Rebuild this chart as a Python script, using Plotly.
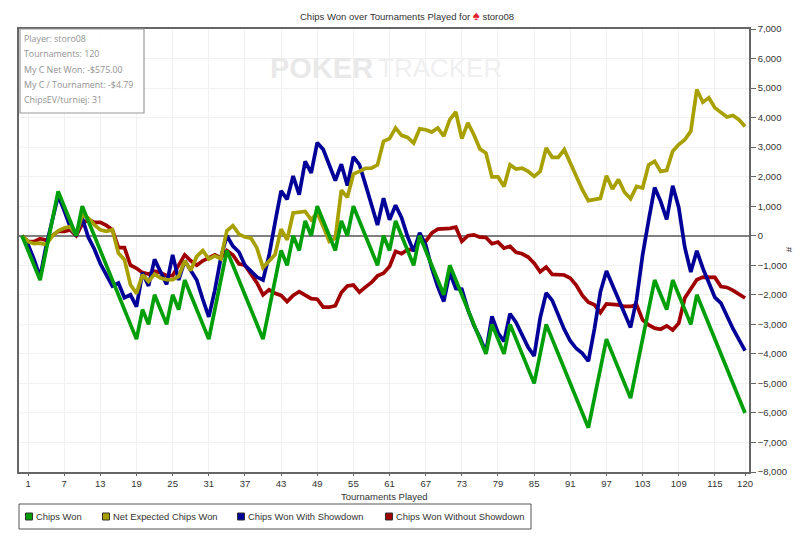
import plotly.graph_objects as go

tournaments = list(range(0, 121))
chips_won = [0,-500,-1000,-1500,-500,500,1500,1000,500,0,1000,500,0,-500,-1000,-1500,-2000,-2500,-3000,-3500,
 -2500,-3000,-2000,-2500,-3000,-2000,-2500,-1500,-2000,-2500,-3000,-3500,-2500,-1500,-500,-1000,-1500,-2000,-2500,-3000,
 -3500,-2500,-1500,-500,-1000,0,-500,500,0,1000,500,0,-500,500,0,1000,500,0,-500,-1000,
 0,-500,500,0,-500,-1000,0,-500,-1000,-1500,-2000,-1000,-1500,-2000,-2500,-3000,-3500,-4000,-3000,-3500,
 -4000,-3000,-3500,-4000,-4500,-5000,-4000,-3000,-3500,-4000,-4500,-5000,-5500,-6000,-6500,-5500,-4500,-3500,-4000,-4500,
 -5000,-5500,-4500,-3500,-2500,-1500,-2000,-2500,-1500,-2000,-2500,-3000,-2000,-2500,-3000,-3500,-4000,-4500,-5000,-5500,-6000]
net_expected = [0,-200,-270,-250,-300,-20,170,260,300,30,700,600,370,200,150,200,-590,-810,-1660,-1950,
 -1320,-1550,-1300,-1435,-1490,-1490,-1380,-850,-1175,-700,-500,-790,-680,-780,170,340,55,-45,-80,-420,
 -1080,-870,-640,225,-135,770,800,825,540,770,300,-190,-80,1540,1300,2090,2180,2280,2290,2400,
 3200,3290,3650,3400,3330,3140,3620,3590,3510,3650,3370,3930,4190,3290,3820,3420,2940,2800,1990,1990,
 1670,2400,2260,2290,2180,2010,2180,2970,2655,2655,2915,2460,2010,1560,1190,1240,1265,2030,1580,1900,
 1470,1250,1670,1615,2400,2520,2180,2215,2860,3085,3250,3540,4950,4520,4670,4330,4160,4020,4070,3930,3700]
with_showdown = [0,-300,-800,-1400,-350,500,1350,850,300,0,600,-50,-450,-950,-1350,-1700,-1600,-2100,-2000,-2400,
 -1250,-1700,-800,-1250,-1650,-650,-1500,-850,-1150,-1500,-2150,-2750,-1850,-750,0,-350,-550,-1000,-1200,-1400,
 -1500,-670,450,1520,1230,2020,1390,2520,2130,3150,2920,2420,1870,2420,1700,2670,2410,1740,1080,360,
 1270,540,1030,610,-30,-530,100,-310,-1090,-1725,-2225,-1250,-1790,-1810,-2500,-3030,-3450,-3940,-2730,-3285,
 -3580,-2640,-2935,-3390,-3780,-4070,-2780,-1940,-2190,-2680,-3170,-3565,-3820,-3980,-4250,-3160,-1900,-1195,-1680,-2160,
 -2605,-3105,-2160,-650,520,1630,1165,550,1690,960,-390,-1230,-510,-1100,-1590,-2090,-2280,-2750,-3150,-3520,-3890]
without_showdown = [0,-200,-200,-100,-150,0,150,150,200,0,400,550,450,450,350,200,-400,-400,-1000,-1100,
 -1250,-1300,-1200,-1250,-1350,-1350,-1000,-650,-850,-1000,-850,-750,-650,-750,-500,-650,-950,-1000,-1300,-1600,
 -2000,-1830,-1950,-2020,-2230,-2020,-1890,-2020,-2130,-2150,-2420,-2420,-2370,-1920,-1700,-1670,-1910,-1740,-1580,-1360,
 -1270,-1040,-530,-610,-470,-470,-100,-190,90,225,225,250,290,-190,0,30,-50,-60,-270,-215,
 -420,-360,-565,-610,-720,-930,-1220,-1060,-1310,-1320,-1330,-1435,-1680,-2020,-2250,-2340,-2600,-2305,-2320,-2340,
 -2395,-2395,-2340,-2850,-3020,-3130,-3165,-3050,-3190,-2960,-2110,-1770,-1490,-1400,-1410,-1410,-1720,-1750,-1850,-1980,-2110]

x_ticks = [1,7,13,19,25,31,37,43,49,55,61,67,73,79,85,91,97,103,109,115,120]
stat_lines = ["Player: storo08", "Tournaments: 120", "My C Net Won: -$575.00",
              "My C / Tournament: -$4.79", "ChipsEV/turniej: 31"]
series_names = ["Chips Won", "Net Expected Chips Won", "Chips Won With Showdown", "Chips Won Without Showdown"]
series_colors = ["#009f09", "#a8a000", "#000099", "#a00000"]

W, H = 800, 539
L, R, T, B = 19, 749, 29, 472
TXT = "#333333"
FONT = "Liberation Sans"

def text(x, y, s, size=9.5, color=TXT, anchor="left", fam=FONT, angle=0):
    return dict(xref="paper", yref="paper", x=(x - L) / (R - L), y=(B - y) / (B - T), text=s, showarrow=False,
                xanchor=anchor, yanchor="middle", textangle=angle, font=dict(family=fam, size=size, color=color))
def rect(x0, y0, x1, y1, line, fill="rgba(0,0,0,0)", width=1):
    return dict(type="rect", xref="paper", yref="paper", x0=(x0 - L) / (R - L), x1=(x1 - L) / (R - L),
                y0=(B - y0) / (B - T), y1=(B - y1) / (B - T), line=dict(color=line, width=width), fillcolor=fill)

fig = go.Figure()
for i in [3, 2, 1, 0]:
    y = [chips_won, net_expected, with_showdown, without_showdown][i]
    fig.add_trace(go.Scatter(x=tournaments, y=y, mode="lines", name=series_names[i], showlegend=False,
                             line=dict(color=series_colors[i], width=3.7), hoverinfo="skip"))

ann = [
    text(298, 15, 'Chips Won over Tournaments Played for <span style="color:#e0202a;font-size:13px">♠</span> storo08', 9.5),
    text(268, 67.5, "<b>POKER</b>", 29, "#e9e9e9"),
    text(376, 67.5, "TRACKER", 26, "#f0f0f0"),
    text(384, 496.5, "Tournaments Played", 9.5, anchor="center"),
    text(790, 250, "#", 9.5, anchor="center", angle=90),
]
for k, line in enumerate(stat_lines):
    ann.append(text(22, 39 + k * 15.35, line, 8.85, "#929292", fam="Open Sans"))

shapes = [rect(20, 29, 144, 113, "#9a9a9a", "rgba(255,255,255,0.85)", 1.2),
          rect(19, 504, 531, 529, "#555555", "#ffffff", 1)]
swatch_x = [29, 106, 241, 389]
for sx, c, name in zip(swatch_x, series_colors, series_names):
    shapes.append(rect(sx - 3.5, 513, sx + 3.5, 520, "#333333", c, 1))
    ann.append(text(sx + 5, 516.5, name, 9.4))

fig.update_layout(
    width=W, height=H, autosize=False, margin=dict(l=L, r=W - R, t=T, b=H - B, pad=0),
    paper_bgcolor="white", plot_bgcolor="white", showlegend=False,
    font=dict(family=FONT, size=9.5, color=TXT),
    annotations=ann, shapes=shapes,
    xaxis=dict(range=[-0.5, 120.66], tickmode="array", tickvals=x_ticks, ticktext=[str(t) for t in x_ticks],
               showgrid=True, gridcolor="#f1f1f1", gridwidth=1, zeroline=False, showline=True, mirror=True,
               linecolor="#666666", linewidth=1.5, ticks="outside", ticklen=2, tickcolor="#666666",
               tickfont=dict(size=9.5, color=TXT)),
    yaxis=dict(side="right", range=[-8000, 7000], tick0=0, dtick=1000, tickformat=",", showgrid=True,
               gridcolor="#f1f1f1", gridwidth=1, zeroline=True, zerolinecolor="#808080", zerolinewidth=2,
               showline=True, mirror=True, linecolor="#666666", linewidth=1.5, ticks="outside", ticklen=5,
               tickcolor="#666666", tickfont=dict(size=9.5, color=TXT)),
)
fig.write_html("out.html", config={"displayModeBar": False}, post_script="document.body.style.margin='0';")
